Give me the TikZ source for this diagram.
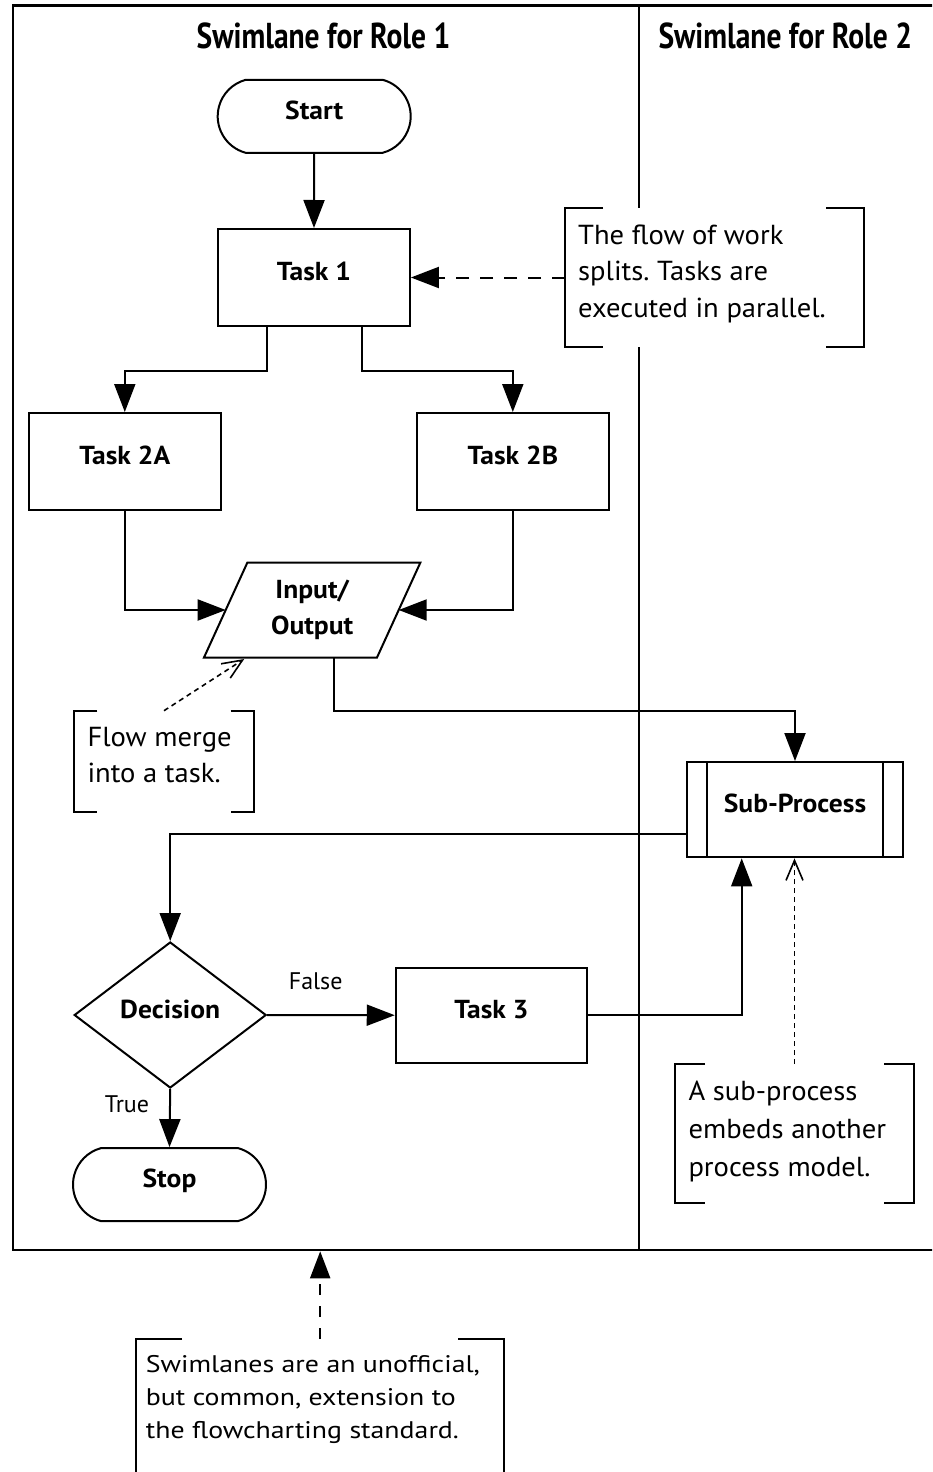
\documentclass[tikz,border=0pt]{standalone}
\usepackage{fontspec}
\setmainfont{PT Sans}
\newfontfamily\titlefont[FakeStretch=0.82]{PT Sans}
\newfontfamily\boxfont[FakeStretch=1.06]{PT Sans}
\newfontfamily\annfont[FakeStretch=1.04]{PT Sans}
\newfontfamily\widefont[FakeStretch=1.16]{PT Sans}
\AtBeginDocument{\frenchspacing}
\usetikzlibrary{arrows.meta,shapes.geometric,shapes.misc}
\begin{document}
\begin{tikzpicture}[x=1pt,y=-1pt,
  box/.style={draw, line width=2pt, rectangle, fill=white, minimum width=192pt, minimum height=97pt, inner sep=0pt,
    font=\boxfont\fontsize{26}{30}\selectfont\bfseries, text height=18pt, text depth=12pt},
  term/.style={box, rounded rectangle, rounded rectangle arc length=150, minimum width=193pt, minimum height=73pt},
  dec/.style={box, diamond, minimum width=192pt, minimum height=146pt},
  iotext/.style={minimum width=173pt, minimum height=95pt, inner sep=0pt, outer sep=0pt, align=center,
    font=\boxfont\fontsize{26}{35.7}\selectfont\bfseries},
  title/.style={font=\titlefont\fontsize{36}{40}\selectfont\bfseries, inner sep=0pt},
  lbl/.style={font=\fontsize{24}{28}\selectfont, inner sep=0pt},
  ann/.style={draw=none, fill=white, inner sep=0pt, outer sep=0pt},
  anntext/.style={inner sep=0pt, align=left, anchor=north west},
  bracket/.style={line width=2pt},
  flow/.style={line width=2pt, -{Triangle[length=28pt,width=21pt]}},
  dasharrow/.style={line width=2pt, dash pattern=on 13pt off 11pt, -{Triangle[length=28pt,width=21pt]}},
  dotarrow/.style={line width=1.6pt, dash pattern=on 5pt off 4pt, -{Straight Barb[length=20pt,width=17pt,line width=1.6pt]}},
]
\useasboundingbox (0,0) rectangle (932,1472);
\clip (0,0) rectangle (932,1472);

% pool frame and lane divider
\node[draw, line width=2.5pt, inner sep=0pt, outer sep=0pt, minimum width=930pt, minimum height=1244.3pt, anchor=north west] (pool) at (13,5.7) {};
\draw[line width=2pt] (639.3,5.7) -- (639.3,1250);

\node[title, anchor=base] (lane1) at (323.5,48.3) {Swimlane for Role 1};
\node[title, anchor=base] (lane2) at (785.3,48.3) {Swimlane for Role 2};

% flow nodes
\node[term] (start) at (314.2,116.3) {Start};
\node[box] (t1) at (313.9,277.5) {Task 1};
\node[box] (t2a) at (124.8,461.5) {Task 2A};
\node[box] (t2b) at (512.8,461.5) {Task 2B};
\node[iotext] (io) at (312.2,610) {Input/\\Output};
\draw[line width=2pt] ([xshift=21.7pt]io.north west) -- ([xshift=21.7pt]io.north east)
   -- ([xshift=-21.7pt]io.south east) -- ([xshift=-21.7pt]io.south west) -- cycle;
\node[box, minimum width=216.6pt, minimum height=95.3pt] (sp) at (795,809.7) {Sub-Process};
\draw[line width=2pt] ([xshift=21.6pt]sp.north west) -- ([xshift=21.6pt]sp.south west);
\draw[line width=2pt] ([xshift=-21.6pt]sp.north east) -- ([xshift=-21.6pt]sp.south east);
\node[dec] (dec) at (170.2,1015) {Decision};
\node[box, minimum width=191.5pt, minimum height=95pt] (t3) at (491.5,1015.2) {Task 3};
\node[term] (stop) at (169.5,1184.6) {Stop};

% annotations
\node[ann, minimum width=299pt, minimum height=138.4pt] (n1) at (714.5,277.5) {};
\draw[bracket] ([xshift=38pt]n1.north west) -- (n1.north west) -- (n1.south west) -- ++(38,0);
\draw[bracket] ([xshift=-38pt]n1.north east) -- (n1.north east) -- (n1.south east) -- ++(-38,0);
\node[anntext, font=\annfont\fontsize{27.5}{36.5}\selectfont] (n1t) at (578,218.45) {\strut The flow of work\\splits. Tasks are\\executed in parallel.};

\node[ann, minimum width=180pt, minimum height=101pt] (n2) at (164,761.2) {};
\draw[bracket] ([xshift=23.3pt]n2.north west) -- (n2.north west) -- (n2.south west) -- ++(23.3,0);
\draw[bracket] ([xshift=-23.3pt]n2.north east) -- (n2.north east) -- (n2.south east) -- ++(-23.3,0);
\node[anntext, font=\annfont\fontsize{27.5}{36.7}\selectfont] (n2t) at (87.3,720.3) {\strut Flow merge\\into a task.};

\node[ann, minimum width=239pt, minimum height=139.3pt] (n3) at (794.5,1133.7) {};
\draw[bracket] ([xshift=30pt]n3.north west) -- (n3.north west) -- (n3.south west) -- ++(30,0);
\draw[bracket] ([xshift=-30pt]n3.north east) -- (n3.north east) -- (n3.south east) -- ++(-30,0);
\node[anntext, font=\annfont\fontsize{27.5}{38.3}\selectfont] (n3t) at (688.3,1073.2) {\strut A sub-process\\embeds another\\process model.};

\node[ann, minimum width=368.3pt, minimum height=170pt] (n4) at (320.2,1424) {};
\draw[bracket] ([xshift=46pt]n4.north west) -- (n4.north west) -- (n4.south west) -- ++(46,0);
\draw[bracket] ([xshift=-46pt]n4.north east) -- (n4.north east) -- (n4.south east) -- ++(-46,0);
\node[anntext, font=\widefont\fontsize{24}{33.3}\selectfont] (n4t) at (145.7,1348.7) {\strut Swimlanes are an unofficial,\\but common, extension to\\the flowcharting standard.};

% connectors
\draw[flow] (start) -- (t1);
\draw[flow] ([xshift=-47.4pt]t1.south) -- ++(0,44) -| (t2a.north);
\draw[flow] ([xshift=48pt]t1.south) -- ++(0,44) -| (t2b.north);
\draw[flow] (t2a.south) |- (io.west);
\draw[flow] (t2b.south) |- (io.east);
\draw[flow] ([xshift=22pt]io.south) -- ++(0,53.5) -| (sp.north);
\draw[flow] ([yshift=-24.6pt]sp.west) -| (dec.north);
\draw[flow] (dec.east) -- node[lbl, pos=0.38, anchor=south, yshift=24.3pt] {False} (t3.west);
\draw[flow] (dec.south) -- node[lbl, pos=0.254, anchor=east, xshift=-20pt] {True} (stop.north);
\draw[flow] (t3.east) -| ([xshift=-53.3pt]sp.south);

\draw[dasharrow] (n1.west) -- (t1.east);
\draw[dotarrow] (n2.north) -- ([xshift=-68pt,yshift=-1.5pt]io.south);
\draw[dotarrow] (n3.north) -- (n3.north |- sp.south);
\draw[line width=2pt, dash pattern=on 11pt off 11pt, -{Triangle[length=27pt,width=20pt]}] (n4.north) -- ([yshift=-1.3pt]n4.north |- pool.south);
\end{tikzpicture}
\end{document}
